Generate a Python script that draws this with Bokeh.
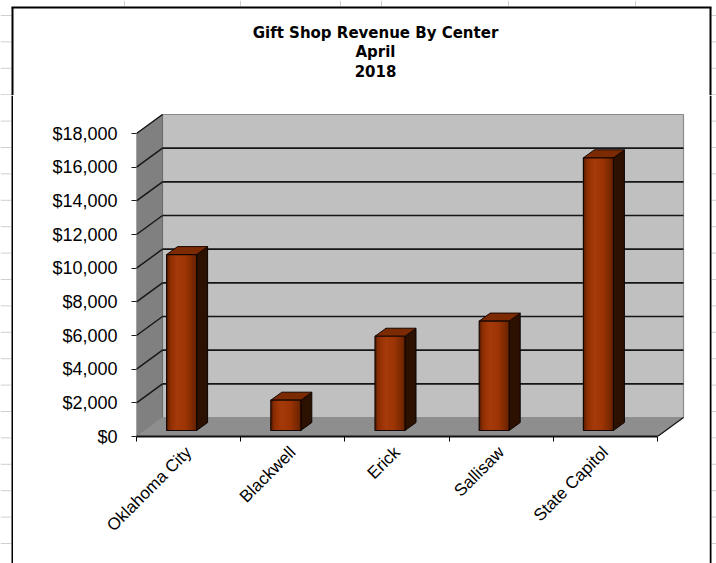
import math

from bokeh.plotting import figure
from bokeh.layouts import column, row
from bokeh.models import FixedTicker, NumeralTickFormatter, Range1d
from bokeh.core.properties import value
from bokeh.embed import file_html
from bokeh.resources import INLINE

# ---- data -------------------------------------------------------------
centers = ["Oklahoma City", "Blackwell", "Erick", "Sallisaw", "State Capitol"]
revenue = [10450, 1800, 5600, 6500, 16200]
y_ticks = [0, 2000, 4000, 6000, 8000, 10000, 12000, 14000, 16000, 18000]
title_lines = ["Gift Shop Revenue By Center", "April", "2018"]

# ---- page geometry (pixels) -------------------------------------------
W, H = 716, 563
TOP_H = 95                 # height of the title band
LEFT_W, RIGHT_W = 13, 7    # worksheet strips either side of the chart
MAIN_W = W - LEFT_W - RIGHT_W
MAIN_H = H - TOP_H

# plot frame edges, page pixels
FL, FR, FT, FB = 136, 685, 113, 436
UX = 104.2                              # pixels per category
UY = 303.0 / y_ticks[-1]                # pixels per dollar

# oblique depth of the back wall, in data units
DX = 26 / UX
DY = 19 / UY
N = len(centers)
YMAX = y_ticks[-1]

CELL = "#D0D0D0"
cell_rows = [15 + 26.4 * k for k in range(22)]
cell_cols = [124, 240, 340, 381, 508, 635]


def pixel_fig(w, h):
    """A bare figure whose data units are page pixels (y downwards)."""
    f = figure(width=w, height=h, output_backend="svg", toolbar_location=None,
               title=None, x_range=Range1d(0, w), y_range=Range1d(h, 0),
               x_axis_location=None, y_axis_location=None, min_border=0,
               frame_align=False)
    f.xgrid.visible = False
    f.ygrid.visible = False
    f.outline_line_color = None
    f.background_fill_color = "white"
    f.border_fill_color = "white"
    return f


# ---- title band ---------------------------------------------------------
top = pixel_fig(W, TOP_H)
top.segment(x0=cell_cols, y0=[0] * len(cell_cols), x1=cell_cols, y1=[6] * len(cell_cols),
            line_color=CELL, line_width=1)
rows_top = [y for y in cell_rows if y < TOP_H]
top.segment(x0=[0] * len(rows_top), y0=rows_top, x1=[11] * len(rows_top), y1=rows_top,
            line_color=CELL, line_width=1)
top.segment(x0=[711] * len(rows_top), y0=rows_top, x1=[W] * len(rows_top), y1=rows_top,
            line_color=CELL, line_width=1)
top.segment(x0=[11, 12, 710], y0=[7, 7, 7], x1=[711, 12, 710], y1=[7, TOP_H, TOP_H],
            line_color="black", line_width=2)
top.text(x=[375] * 3, y=[32, 51, 70], text=title_lines,
         text_align="center", text_baseline="middle",
         text_font=value("DejaVu Sans"), text_font_style="bold",
         text_font_size="15px", text_color="black")

# ---- side strips --------------------------------------------------------
rows_side = [y - TOP_H for y in cell_rows if TOP_H < y < H]
left = pixel_fig(LEFT_W, MAIN_H)
left.segment(x0=[0] * len(rows_side), y0=rows_side, x1=[11] * len(rows_side), y1=rows_side,
             line_color=CELL, line_width=1)
left.segment(x0=[12], y0=[0], x1=[12], y1=[MAIN_H], line_color="black", line_width=2)

right = pixel_fig(RIGHT_W, MAIN_H)
right.segment(x0=[2] * len(rows_side), y0=rows_side, x1=[RIGHT_W] * len(rows_side),
              y1=rows_side, line_color=CELL, line_width=1)
right.segment(x0=[1], y0=[0], x1=[1], y1=[MAIN_H], line_color="black", line_width=2)

# ---- chart ----------------------------------------------------------------
p = figure(width=MAIN_W, height=MAIN_H, output_backend="svg", toolbar_location=None,
           title=None, frame_align=False,
           x_range=Range1d(0, (FR - FL) / UX), y_range=Range1d(0, (FB - FT) / UY),
           min_border_left=FL - LEFT_W, min_border_right=W - RIGHT_W - FR,
           min_border_top=FT - TOP_H, min_border_bottom=H - FB)
p.xgrid.visible = False
p.ygrid.visible = False
p.outline_line_color = None
p.background_fill_color = "white"
p.border_fill_color = "white"

# walls and floor
p.patch([DX, N + DX, N + DX, DX], [DY, DY, YMAX + DY, YMAX + DY],
        fill_color="#C0C0C0", line_color="#8A8A8A", line_width=1.2)
p.patch([0, DX, DX, 0], [0, DY, YMAX + DY, YMAX],
        fill_color="#808080", line_color="#6A6A6A", line_width=1)
p.patch([0, N, N + DX, DX], [0, 0, DY, DY],
        fill_color="#8E8E8E", line_color="#8E8E8E", line_width=1)

grid_vals = y_ticks[1:-1]
p.segment(x0=[DX] * len(grid_vals), y0=[v + DY for v in grid_vals],
          x1=[N + DX] * len(grid_vals), y1=[v + DY for v in grid_vals],
          line_color="#151515", line_width=1.7)
side_vals = y_ticks[1:]
p.segment(x0=[0] * len(side_vals), y0=side_vals,
          x1=[DX] * len(side_vals), y1=[v + DY for v in side_vals],
          line_color="#151515", line_width=1.4)
p.segment(x0=[N], y0=[0], x1=[N + DX], y1=[DY], line_color="#151515", line_width=1.2)

# 3-D columns: shaded front, dark side, brown top
left_off, right_off = -22 / UX, 8 / UX
base = 6 / UY
bdx, bdy = 11 / UX, 8 / UY
stops = [(0.0, (0x55, 0x1B, 0x00)), (0.12, (0x8E, 0x2E, 0x02)),
         (0.35, (0xA6, 0x3A, 0x0A)), (0.65, (0x9C, 0x34, 0x04)),
         (1.0, (0x66, 0x22, 0x00))]


def shade(t):
    for (t0, c0), (t1, c1) in zip(stops[:-1], stops[1:]):
        if t <= t1:
            f = (t - t0) / (t1 - t0)
            return "#%02x%02x%02x" % tuple(int(round(a + (b - a) * f)) for a, b in zip(c0, c1))
    return "#%02x%02x%02x" % stops[-1][1]


nstrip = 15
sl, sr, sb, st, sc = [], [], [], [], []
fl, fr, fb, ft = [], [], [], []
side_x, side_y, top_x, top_y = [], [], [], []
for i, v in enumerate(revenue):
    c = i + 0.5
    xl, xr = c + left_off, c + right_off
    yb, yt = base, base + v
    w = (xr - xl) / nstrip
    for k in range(nstrip):
        sl.append(xl + k * w)
        sr.append(min(xl + (k + 2) * w, xr))
        sb.append(yb)
        st.append(yt)
        sc.append(shade((k + 0.5) / nstrip))
    fl.append(xl); fr.append(xr); fb.append(yb); ft.append(yt)
    side_x.append([xr, xr + bdx, xr + bdx, xr])
    side_y.append([yb, yb + bdy, yt + bdy, yt])
    top_x.append([xl, xr, xr + bdx, xl + bdx])
    top_y.append([yt, yt, yt + bdy, yt + bdy])

p.patches(side_x, side_y, fill_color="#2C1000", line_color="#0A0300", line_width=1)
p.patches(top_x, top_y, fill_color="#7C2A02", line_color="#1A0800", line_width=1)
p.quad(left=sl, right=sr, bottom=sb, top=st, fill_color=sc, line_color=None)
p.quad(left=fl, right=fr, bottom=fb, top=ft, fill_color=None,
       line_color="#140600", line_width=1.2)

# axes
xa = p.xaxis[0]
xa.ticker = FixedTicker(ticks=[i + 0.5 for i in range(N)],
                        minor_ticks=list(range(N + 1)))
xa.major_label_overrides = {i + 0.5: name for i, name in enumerate(centers)}
xa.major_label_orientation = math.pi / 4
xa.major_tick_out = 0
xa.major_tick_in = 0
xa.minor_tick_out = 5
xa.minor_tick_in = 0
xa.minor_tick_line_color = "black"
xa.axis_line_color = "#111111"
xa.axis_line_width = 2
xa.bounds = (0, N)
xa.major_label_standoff = 8
xa.major_label_text_font = "Liberation Sans"
xa.major_label_text_font_size = "17px"
xa.major_label_text_color = "black"

ya = p.yaxis[0]
ya.ticker = FixedTicker(ticks=y_ticks)
ya.formatter = NumeralTickFormatter(format="$0,0")
ya.bounds = (0, YMAX)
ya.axis_line_color = None
ya.major_tick_out = 5
ya.major_tick_in = 0
ya.minor_tick_line_color = None
ya.major_tick_line_color = "#222222"
ya.major_label_standoff = 14
ya.major_label_text_font = "Liberation Sans"
ya.major_label_text_font_size = "18px"
ya.major_label_text_color = "black"

page = column(top, row(left, p, right))
open("out.html", "w").write(file_html(page, INLINE))
